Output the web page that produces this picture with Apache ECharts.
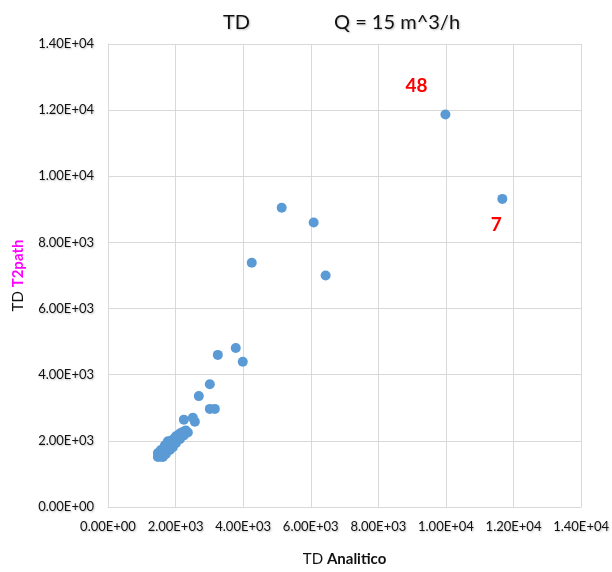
<!DOCTYPE html>
<html>
<head>
<meta charset="utf-8">
<title>TD Q = 15 m^3/h</title>
<script src="https://cdn.jsdelivr.net/npm/echarts@6/dist/echarts.min.js"></script>
<style>
  html, body { margin: 0; padding: 0; background: #fff; }
  #chart { width: 612px; height: 572px; }
</style>
</head>
<body>
<div id="chart"></div>
<script>
// TD computed analytically (x) versus TD from T2path (y)
const tdAnalitico = [
  1477, 1536, 1566, 1595, 1625, 1654, 1684, 1713, 1743, 1772, 1802, 1831, 1861,
  1891, 1950, 1979, 2009, 2068, 2127, 2186, 2245, 2304, 1560, 1610,
  1625, 1713, 1831, 1920, 2009, 2127, 2245, 2363, 1477, 1566, 1684, 1772,
  2245, 2511, 2570, 3013, 3161, 2688, 3013, 3250, 3781, 3988,
  4254, 5140, 6086, 6440, 9985, 11669
];
const tdT2path = [
  1513, 1543, 1602, 1662, 1632, 1721, 1751, 1810, 1780, 1869, 1929, 1899, 1988,
  2018, 2047, 2077, 2136, 2166, 2225, 2255, 2285, 2314, 1520, 1560,
  1513, 1602, 1721, 1810, 1929, 2047, 2166, 2255, 1632, 1721, 1869, 1988,
  2641, 2700, 2581, 2967, 2967, 3353, 3709, 4599, 4807, 4391,
  7388, 9050, 8604, 7002, 11868, 9316
];
// Case numbers written next to the two outlying points
const annotatedIndex = [50, 51];
const annotatedText = ['48', '7'];

function sci(v) {
  if (v === 0) return '0.00E+00';
  const e = Math.floor(Math.log10(Math.abs(v)));
  const m = v / Math.pow(10, e);
  const sign = e < 0 ? '-' : '+';
  const ae = Math.abs(e);
  return m.toFixed(2) + 'E' + sign + (ae < 10 ? '0' + ae : ae);
}

const fontFam = 'Lato, "Open Sans", "Liberation Sans", sans-serif';
const labelShadow = { textShadowColor: 'rgba(0,0,0,0.25)', textShadowBlur: 2, textShadowOffsetX: 1, textShadowOffsetY: 1 };

const labelOffsets = [[-29, -29], [-6, 26]];
const points = tdAnalitico.map((x, i) => {
  const item = { value: [x, tdT2path[i]] };
  const k = annotatedIndex.indexOf(i);
  if (k >= 0) {
    item.label = {
      show: true,
      formatter: annotatedText[k],
      position: 'inside',
      offset: labelOffsets[k],
      color: '#ff0000',
      fontWeight: 'bold',
      fontSize: 19,
      fontFamily: fontFam
    };
  }
  return item;
});

const chart = echarts.init(document.getElementById('chart'), null, { renderer: 'canvas' });
chart.setOption({
  animation: false,
  backgroundColor: '#ffffff',
  title: {
    text: '{a|TD}{gap|}{b|Q = 15 m^3/h}',
    left: 218,
    top: 8,
    textStyle: {
      fontWeight: 'normal',
      rich: {
        a: { fontSize: 20, fontWeight: 'normal', color: '#111', fontFamily: fontFam, ...labelShadow },
        gap: { width: 84 },
        b: { fontSize: 20, fontWeight: 'normal', color: '#111', fontFamily: fontFam, ...labelShadow }
      }
    }
  },
  grid: { left: 108, width: 474, top: 44, height: 472, containLabel: false },
  xAxis: {
    type: 'value',
    min: 0, max: 14000, interval: 2000,
    name: '{a|TD }{b|Analitico}',
    nameLocation: 'middle',
    nameGap: 45,
    nameTextStyle: {
      rich: {
        a: { fontSize: 15, color: '#111', fontFamily: fontFam },
        b: { fontSize: 15, color: '#111', fontWeight: 'bold', fontFamily: fontFam }
      }
    },
    axisLine: { show: true, lineStyle: { color: '#d9d9d9', width: 1 } },
    axisTick: { show: false },
    axisLabel: { formatter: sci, color: '#111', fontSize: 13, fontFamily: fontFam, margin: 13, ...labelShadow },
    splitLine: { show: true, lineStyle: { color: '#d9d9d9', width: 1 } }
  },
  yAxis: {
    type: 'value',
    min: 0, max: 14000, interval: 2000,
    name: '{a|TD }{b|T2path}',
    nameLocation: 'middle',
    nameGap: 82,
    nameRotate: 90,
    nameTextStyle: {
      rich: {
        a: { fontSize: 15, color: '#111', fontFamily: fontFam },
        b: { fontSize: 15, color: '#ff00ff', fontWeight: 'bold', fontFamily: fontFam }
      }
    },
    axisLine: { show: true, lineStyle: { color: '#d9d9d9', width: 1 } },
    axisTick: { show: false },
    axisLabel: { formatter: sci, color: '#111', fontSize: 13, fontFamily: fontFam, margin: 14, ...labelShadow },
    splitLine: { show: true, lineStyle: { color: '#d9d9d9', width: 1 } }
  },
  series: [{
    type: 'scatter',
    data: points,
    symbol: 'circle',
    symbolSize: 10,
    itemStyle: { color: '#5b9bd5', opacity: 1 },
    label: { show: false }
  }]
});
</script>
</body>
</html>
